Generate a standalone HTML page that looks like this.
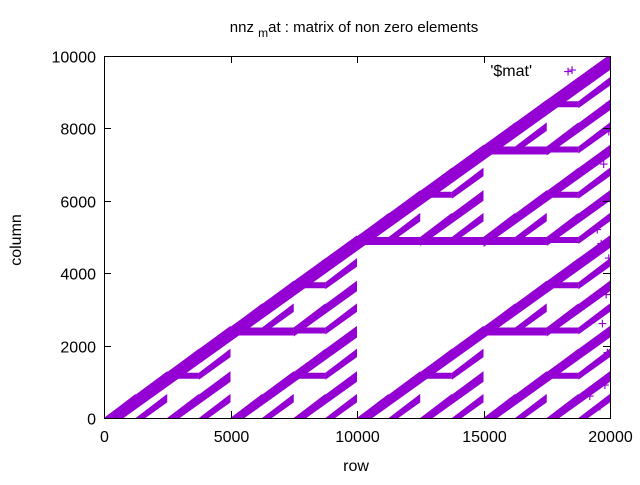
<!DOCTYPE html>
<html><head><meta charset="utf-8"><style>
html,body{margin:0;padding:0;background:#fff}
svg text{font-family:"Liberation Sans",sans-serif;fill:#000}
</style></head><body>
<svg id="chart" width="640" height="480" viewBox="0 0 640 480" xmlns="http://www.w3.org/2000/svg">
<rect width="640" height="480" fill="#fff"/>
<text x="354" y="32" font-size="15" text-anchor="middle">nnz <tspan font-size="12" dy="5">m</tspan><tspan dy="-5">at : matrix of non zero elements</tspan></text>
<defs><clipPath id="pc"><rect x="104" y="56" width="506" height="362"/></clipPath></defs>
<g id="marks" clip-path="url(#pc)"></g>
<g id="axes"></g>
<text x="356" y="471" font-size="16" text-anchor="middle">row</text>
<text x="21" y="240" font-size="16" text-anchor="middle" transform="rotate(-90 21 240)">column</text>
<text x="532" y="76" font-size="16" text-anchor="end">'$mat'</text>
<text x="568" y="77" font-size="16" text-anchor="middle" style="fill:#9400d3">+</text>
</svg>
<script>
// band segments: start row, start column, row-extent
const segX0 = [0, 0,10000,10000, 0,5000,5000,10000,15000,15000,10000,15000,15000,
  0,2500,2500, 5000,7500,7500, 5000,7500,7500, 10000,12500,12500, 15000,17500,17500,
  15000,17500,17500, 10000,12500,12500, 15000,17500,17500, 15000,17500,17500];
const segY0 = [0, 0,0,5000, 0,0,2500,0,0,2500,5000,5000,7500,
  0,0,1250, 0,0,1250, 2500,2500,3750, 0,0,1250, 0,0,1250,
  2500,2500,3750, 5000,5000,6250, 5000,5000,6250, 7500,7500,8750];
const segW = [20000, 10000,10000,10000, 5000,5000,5000,5000,5000,5000,5000,5000,5000,
  2500,2500,2500, 2500,2500,2500, 2500,2500,2500, 2500,2500,2500, 2500,2500,2500,
  2500,2500,2500, 2500,2500,2500, 2500,2500,2500, 2500,2500,2500];
// finest level segments (row-extent 1250)
const fineX0 = [0,1250,1250, 2500,3750,3750, 2500,3750,3750, 5000,6250,6250, 7500,8750,8750, 7500,8750,8750,
  5000,6250,6250, 7500,8750,8750, 7500,8750,8750, 10000,11250,11250, 12500,13750,13750, 12500,13750,13750,
  15000,16250,16250, 17500,18750,18750, 17500,18750,18750, 15000,16250,16250, 17500,18750,18750, 17500,18750,18750,
  10000,11250,11250, 12500,13750,13750, 12500,13750,13750, 15000,16250,16250, 17500,18750,18750, 17500,18750,18750,
  15000,16250,16250, 17500,18750,18750, 17500,18750,18750];
const fineY0 = [0,0,625, 0,0,625, 1250,1250,1875, 0,0,625, 0,0,625, 1250,1250,1875,
  2500,2500,3125, 2500,2500,3125, 3750,3750,4375, 0,0,625, 0,0,625, 1250,1250,1875,
  0,0,625, 0,0,625, 1250,1250,1875, 2500,2500,3125, 2500,2500,3125, 3750,3750,4375,
  5000,5000,5625, 5000,5000,5625, 6250,6250,6875, 5000,5000,5625, 5000,5000,5625, 6250,6250,6875,
  7500,7500,8125, 7500,7500,8125, 8750,8750,9375];
const xTicks = [0,5000,10000,15000,20000];
const yTicks = [0,2000,4000,6000,8000,10000];
const edgeX = [19600,19800,19900,19700,19850,19950,19500,19900,19750,19950,19200,19850,19650,18500];
const edgeY = [300,900,1800,2600,3400,4400,5200,6100,7000,7900,600,8600,4800,9600];

const L=104,R=610,T=56,B=418;
const sx=v=>L+(v/20000)*(R-L);
const sy=v=>B-(v/10000)*(B-T);
const NS="http://www.w3.org/2000/svg";
const marks=document.getElementById('marks');
const axes=document.getElementById('axes');
const col="#9400d3";
function band(xs,ys,w,t,strip){
  const x0=sx(xs),y0=sy(ys),x1=sx(xs+w),y1=sy(ys+w/2);
  const p=document.createElementNS(NS,'polygon');
  p.setAttribute('points',`${x0},${y0} ${x1},${y1-1.5} ${x1},${y1+t} ${x0},${y0+t}`);
  p.setAttribute('fill',col);
  
  
  marks.appendChild(p);
  if(strip && ys>0){
    const h=document.createElementNS(NS,'rect');
    h.setAttribute('x',x0);h.setAttribute('y',y0);
    h.setAttribute('width',sx(xs+w/2)-x0);h.setAttribute('height',w>=5000?8:6);
    h.setAttribute('fill',col);
    
    
    marks.appendChild(h);
  }
}
for(let i=0;i<segX0.length;i++){
  const t=segW[i]>=20000?14:(segW[i]>=10000?11:(segW[i]>=5000?10:9));
  band(segX0[i],segY0[i],segW[i],t,true);
}
for(let i=0;i<fineX0.length;i++){
  band(fineX0[i],fineY0[i],1250,7,false);
}
for(let i=0;i<edgeX.length;i++){
  const t=document.createElementNS(NS,'text');
  t.setAttribute('x',sx(edgeX[i]));t.setAttribute('y',sy(edgeY[i])+5);
  t.setAttribute('font-size','16');t.setAttribute('text-anchor','middle');
  t.setAttribute('style','fill:'+col);
  t.textContent='+';
  
  
  marks.appendChild(t);
}
function line(x1,y1,x2,y2,name){
  const l=document.createElementNS(NS,'line');
  l.setAttribute('x1',x1);l.setAttribute('y1',y1);l.setAttribute('x2',x2);l.setAttribute('y2',y2);
  l.setAttribute('stroke','#000');l.setAttribute('stroke-width','1');
  
  
  axes.appendChild(l);
}
const fr=document.createElementNS(NS,'rect');
fr.setAttribute('x',L+0.5);fr.setAttribute('y',T+0.5);fr.setAttribute('width',R-L);fr.setAttribute('height',B-T);
fr.setAttribute('fill','none');fr.setAttribute('stroke','#000');


axes.appendChild(fr);
xTicks.forEach(v=>{
  const x=Math.round(sx(v))+0.5;
  line(x,B,x,B-7,'x-tick');line(x,T,x,T+7,'x-tick-top');
  const t=document.createElementNS(NS,'text');
  t.setAttribute('x',x);t.setAttribute('y',B+24);t.setAttribute('font-size','16');t.setAttribute('text-anchor','middle');
  t.textContent=v;
  
  
  axes.appendChild(t);
});
yTicks.forEach(v=>{
  const y=Math.round(sy(v))+0.5;
  line(L,y,L+7,y,'y-tick');line(R,y,R-7,y,'y-tick-right');
  const t=document.createElementNS(NS,'text');
  t.setAttribute('x',L-8);t.setAttribute('y',y+6);t.setAttribute('font-size','16');t.setAttribute('text-anchor','end');
  t.textContent=v;
  
  
  axes.appendChild(t);
});
</script>
</body></html>
